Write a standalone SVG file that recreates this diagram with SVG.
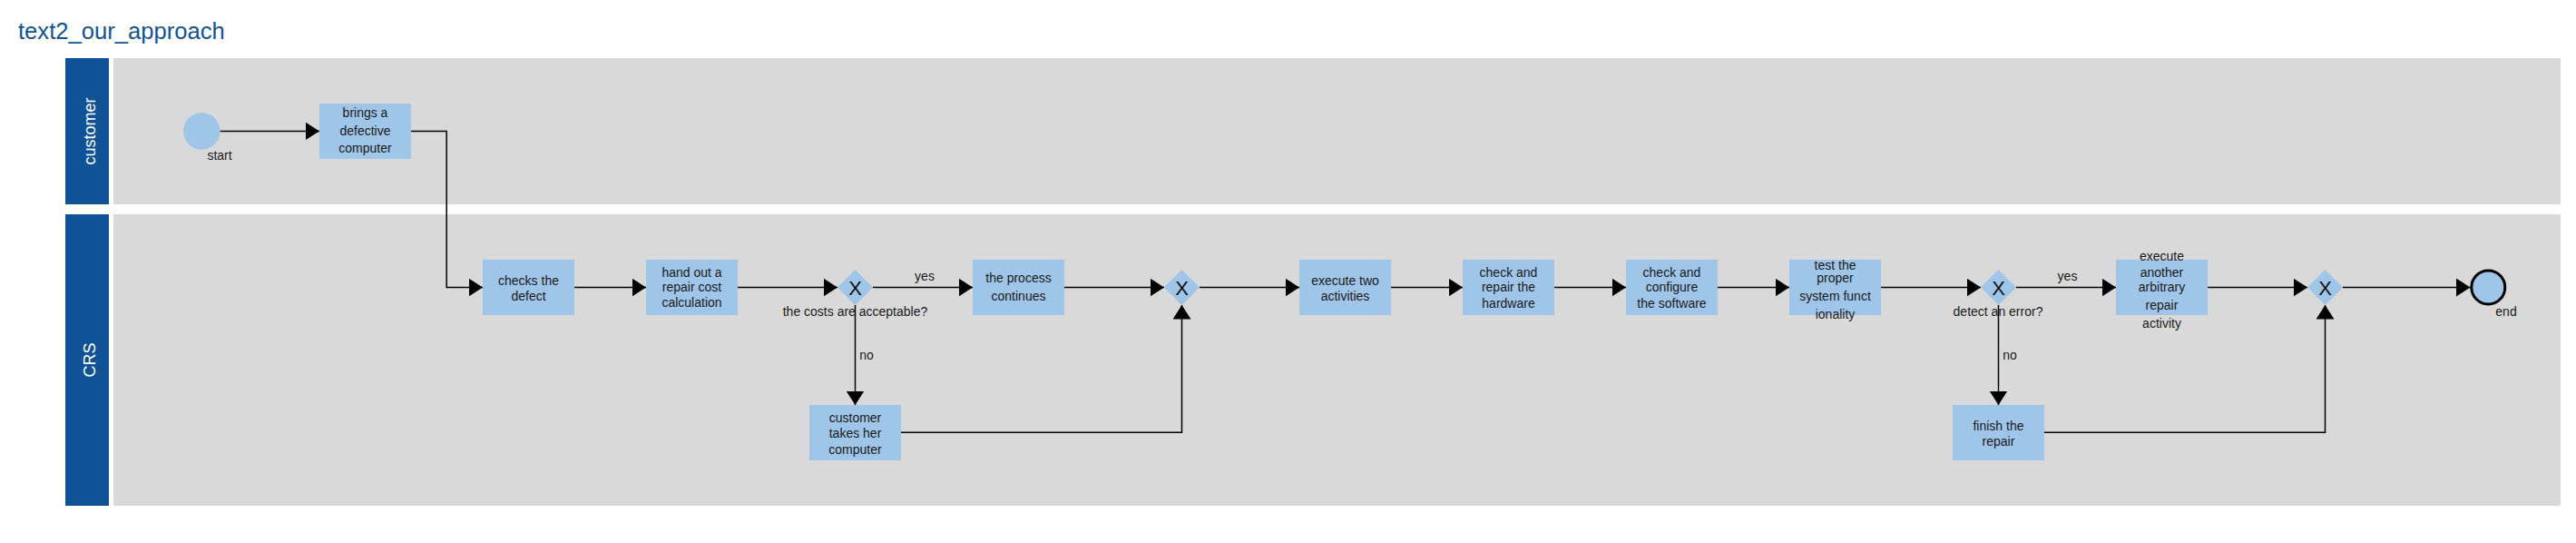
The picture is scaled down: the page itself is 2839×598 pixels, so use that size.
<svg xmlns="http://www.w3.org/2000/svg" width="2839" height="598" viewBox="0 0 2839 598">
<style>
.bg{fill:#ffffff}
.title{font-family:"Liberation Sans",Arial,sans-serif;font-size:25.6px;fill:#0f5396}
.lhead{fill:#0f5396}
.lbody{fill:#d9d9d9}
.lname{font-family:"Liberation Sans",Arial,sans-serif;font-size:18px;fill:#ffffff;text-anchor:middle}
.task{fill:#9fc5e8}
.gw{fill:#9fc5e8}
.ev{fill:#9fc5e8}
.evend{fill:#9fc5e8;stroke:#000000;stroke-width:3}
.t{font-family:"Liberation Sans",Arial,sans-serif;font-size:14px;fill:#1a1a1a;text-anchor:middle}
.x{font-family:"Liberation Sans",Arial,sans-serif;font-size:22px;fill:#111111;text-anchor:middle}
.conn{fill:none;stroke:#000000;stroke-width:1.5;marker-end:url(#arr)}
</style>
<defs>
<marker id="arr" markerUnits="userSpaceOnUse" markerWidth="16" markerHeight="21" refX="15.5" refY="10" orient="auto">
<path d="M0,0 L15.5,10 L0,20 Z" fill="#000000"/>
</marker>
</defs>
<rect class="bg" x="0" y="0" width="2839" height="598"/>
<text class="title" x="20" y="43.3">text2_our_approach</text>

<g id="lane-customer">
<rect class="lhead" x="72" y="64" width="48" height="161"/>
<rect class="lbody" x="125" y="64" width="2697" height="161"/>
<text class="lname" transform="translate(104.5,144.5) rotate(-90)">customer</text>
</g>
<g id="lane-CRS">
<rect class="lhead" x="72" y="236" width="48" height="321"/>
<rect class="lbody" x="125" y="236" width="2697" height="321"/>
<text class="lname" transform="translate(104.5,396.5) rotate(-90)">CRS</text>
</g>

<g id="connectors">
<path class="conn" d="M242.5,144.4 H352"/>
<path class="conn" d="M453,144.4 H492.2 V316.5 H532"/>
<path class="conn" d="M633,316.5 H712"/>
<path class="conn" d="M813,316.5 H923"/>
<path class="conn" d="M962,316.5 H1072"/>
<path class="conn" d="M942.5,336 V446"/>
<path class="conn" d="M1173,316.5 H1283"/>
<path class="conn" d="M993,476.3 H1302.5 V336"/>
<path class="conn" d="M1322,316.5 H1432"/>
<path class="conn" d="M1533,316.5 H1612"/>
<path class="conn" d="M1713,316.5 H1792"/>
<path class="conn" d="M1893,316.5 H1972"/>
<path class="conn" d="M2073,316.5 H2183"/>
<path class="conn" d="M2222,316.5 H2332"/>
<path class="conn" d="M2202.5,336 V446"/>
<path class="conn" d="M2433,316.5 H2543"/>
<path class="conn" d="M2253,476.3 H2562.5 V336"/>
<path class="conn" d="M2582,316.5 H2722.5"/>
<text class="t" x="1019" y="309.3">yes</text>
<text class="t" x="955" y="395.7">no</text>
<text class="t" x="2278.5" y="309.3">yes</text>
<text class="t" x="2215" y="395.7">no</text>
</g>

<g id="start">
<circle class="ev" cx="222.3" cy="144.4" r="20.3"/>
<text class="t" x="242" y="176.3">start</text>
</g>
<g id="brings">
<rect class="task" x="352" y="114" width="101" height="61"/>
<text class="t"><tspan x="402.5" y="129">brings a</tspan><tspan x="402.5" y="149.3">defective</tspan><tspan x="402.5" y="168.3">computer</tspan></text>
</g>
<g id="checks">
<rect class="task" x="532" y="286" width="101" height="61"/>
<text class="t"><tspan x="582.5" y="314">checks the</tspan><tspan x="582.5" y="330.7">defect</tspan></text>
</g>
<g id="handout">
<rect class="task" x="712" y="286" width="101" height="61"/>
<text class="t"><tspan x="762.5" y="304.7">hand out a</tspan><tspan x="762.5" y="321">repair cost</tspan><tspan x="762.5" y="338.3">calculation</tspan></text>
</g>
<g id="gw1">
<polygon class="gw" points="942.5,297 962,316.5 942.5,336 923,316.5"/>
<text class="x" x="942.5" y="325">X</text>
<text class="t" x="942.5" y="348.3">the costs are acceptable?</text>
</g>
<g id="process">
<rect class="task" x="1072" y="286" width="101" height="61"/>
<text class="t"><tspan x="1122.5" y="311">the process</tspan><tspan x="1122.5" y="331">continues</tspan></text>
</g>
<g id="custtakes">
<rect class="task" x="892" y="446" width="101" height="61"/>
<text class="t"><tspan x="942.5" y="465">customer</tspan><tspan x="942.5" y="481.7">takes her</tspan><tspan x="942.5" y="499.5">computer</tspan></text>
</g>
<g id="gw2">
<polygon class="gw" points="1302.5,297 1322,316.5 1302.5,336 1283,316.5"/>
<text class="x" x="1302.5" y="325">X</text>
</g>
<g id="exec2">
<rect class="task" x="1432" y="286" width="101" height="61"/>
<text class="t"><tspan x="1482.5" y="314">execute two</tspan><tspan x="1482.5" y="330.7">activities</tspan></text>
</g>
<g id="hardware">
<rect class="task" x="1612" y="286" width="101" height="61"/>
<text class="t"><tspan x="1662.5" y="305">check and</tspan><tspan x="1662.5" y="321">repair the</tspan><tspan x="1662.5" y="339">hardware</tspan></text>
</g>
<g id="software">
<rect class="task" x="1792" y="286" width="101" height="61"/>
<text class="t"><tspan x="1842.5" y="305">check and</tspan><tspan x="1842.5" y="321">configure</tspan><tspan x="1842.5" y="339">the software</tspan></text>
</g>
<g id="test">
<rect class="task" x="1972" y="286" width="101" height="61"/>
<text class="t"><tspan x="2022.5" y="296.7">test the</tspan><tspan x="2022.5" y="311.3">proper</tspan><tspan x="2022.5" y="331.3">system funct</tspan><tspan x="2022.5" y="350.7">ionality</tspan></text>
</g>
<g id="gw3">
<polygon class="gw" points="2202.5,297 2222,316.5 2202.5,336 2183,316.5"/>
<text class="x" x="2202.5" y="325">X</text>
<text class="t" x="2202" y="348.3">detect an error?</text>
</g>
<g id="finish">
<rect class="task" x="2152" y="446" width="101" height="61"/>
<text class="t"><tspan x="2202.5" y="474.3">finish the</tspan><tspan x="2202.5" y="490.7">repair</tspan></text>
</g>
<g id="another">
<rect class="task" x="2332" y="286" width="101" height="61"/>
<text class="t"><tspan x="2382.5" y="287.3">execute</tspan><tspan x="2382.5" y="304.7">another</tspan><tspan x="2382.5" y="321">arbitrary</tspan><tspan x="2382.5" y="340.7">repair</tspan><tspan x="2382.5" y="360.7">activity</tspan></text>
</g>
<g id="gw4">
<polygon class="gw" points="2562.5,297 2582,316.5 2562.5,336 2543,316.5"/>
<text class="x" x="2562.5" y="325">X</text>
</g>
<g id="end">
<circle class="evend" cx="2742.3" cy="316.4" r="18.5"/>
<text class="t" x="2762" y="348.3">end</text>
</g>
</svg>
